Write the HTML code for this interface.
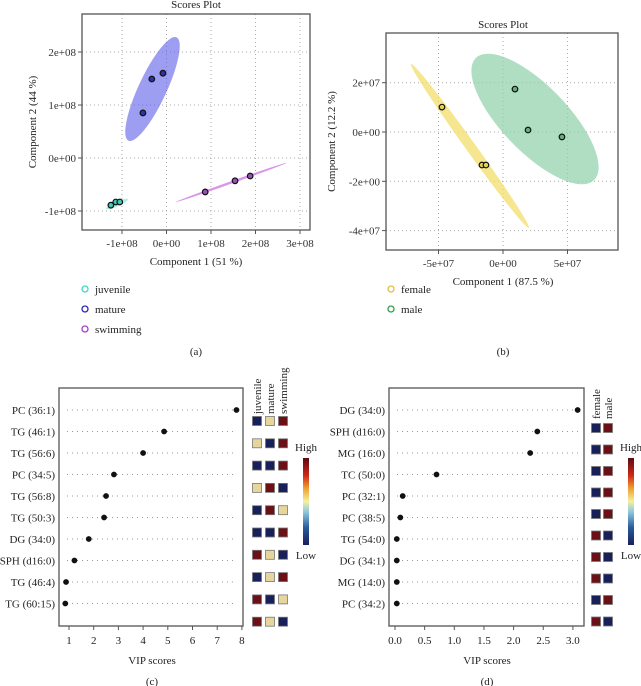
<!DOCTYPE html>
<html><head><meta charset="utf-8"><style>
body{margin:0;background:#fff}
svg{display:block;font-family:"Liberation Serif",serif;}
</style></head><body>
<svg id="fig" width="641" height="686" viewBox="0 0 641 686" xmlns="http://www.w3.org/2000/svg"></svg>
<script>
// ---- Panel A data (units 1e8) ----
const aGroups=["juvenile","mature","swimming"];
const aX=[[-1.25,-1.14,-1.05],[-0.53,-0.33,-0.08],[0.87,1.54,1.88]];
const aY=[[-0.89,-0.83,-0.83],[0.85,1.49,1.60],[-0.64,-0.43,-0.34]];
const aXTicks=[-1,0,1,2,3];
const aXTickLabels=["-1e+08","0e+00","1e+08","2e+08","3e+08"];
const aYTicks=[-1,0,1,2];
const aYTickLabels=["-1e+08","0e+00","1e+08","2e+08"];
// ---- Panel B data (units 1e7) ----
const bGroups=["female","male"];
const bX=[[-4.73,-1.63,-1.32],[0.93,1.94,4.57]];
const bY=[[1.01,-1.34,-1.34],[1.74,0.08,-0.20]];
const bXTicks=[-5,0,5];
const bXTickLabels=["-5e+07","0e+00","5e+07"];
const bYTicks=[-4,-2,0,2];
const bYTickLabels=["-4e+07","-2e+00","0e+00","2e+07"];
// ---- Panel C data ----
const cLabels=["PC (36:1)","TG (46:1)","TG (56:6)","PC (34:5)","TG (56:8)","TG (50:3)","DG (34:0)","SPH (d16:0)","TG (46:4)","TG (60:15)"];
const cValues=[7.78,4.85,4.0,2.82,2.5,2.42,1.8,1.22,0.88,0.85];
const cXTicks=[1,2,3,4,5,6,7,8];
const cGroups=["juvenile","mature","swimming"];
const cHeat=[["B","T","R"],["T","B","R"],["B","B","R"],["T","R","B"],["B","R","T"],["B","B","R"],["R","T","B"],["B","T","R"],["R","B","T"],["R","T","B"]];
// ---- Panel D data ----
const dLabels=["DG (34:0)","SPH (d16:0)","MG (16:0)","TC (50:0)","PC (32:1)","PC (38:5)","TG (54:0)","DG (34:1)","MG (14:0)","PC (34:2)"];
const dValues=[3.08,2.4,2.28,0.7,0.13,0.09,0.03,0.03,0.03,0.03];
const dXTicks=[0,0.5,1,1.5,2,2.5,3];
const dXTickLabels=["0.0","0.5","1.0","1.5","2.0","2.5","3.0"];
const dGroups=["female","male"];
const dHeat=[["B","R"],["B","R"],["B","R"],["B","R"],["B","R"],["R","B"],["R","B"],["R","B"],["B","R"],["R","B"]];

const NS="http://www.w3.org/2000/svg";
const svg=document.getElementById('fig');
function mk(tag,attrs,parent,text){const e=document.createElementNS(NS,tag);for(const k in attrs)e.setAttribute(k,attrs[k]);if(text!==undefined)e.textContent=text;(parent||svg).appendChild(e);return e;}
const heatCol={B:"#18205a",R:"#6a1016",T:"#e6d69c"};

// ---------- Scores plots ----------
function scores(opt){
  const g=mk('g',{});
  
  
  const sx=v=>opt.x0+v*opt.kx, sy=v=>opt.y0-v*opt.ky;
  opt.xTicks.forEach((t,i)=>{
    const l=mk('line',{x1:sx(t),x2:sx(t),y1:opt.top,y2:opt.bottom,stroke:"#aaa","stroke-dasharray":"1,3"},g);
    
    mk('line',{x1:sx(t),x2:sx(t),y1:opt.bottom,y2:opt.bottom+4,stroke:"#555"},g);
    const tx=mk('text',{x:sx(t),y:opt.bottom+17,"text-anchor":"middle","font-size":"11",fill:"#333"},g,opt.xTickLabels[i]);
    
  });
  opt.yTicks.forEach((t,i)=>{
    const l=mk('line',{x1:opt.left,x2:opt.right,y1:sy(t),y2:sy(t),stroke:"#aaa","stroke-dasharray":"1,3"},g);
    
    mk('line',{x1:opt.left-4,x2:opt.left,y1:sy(t),y2:sy(t),stroke:"#555"},g);
    const tx=mk('text',{x:opt.left-6,y:sy(t)+4,"text-anchor":"end","font-size":"11",fill:"#333"},g,opt.yTickLabels[i]);
    
  });
  // ellipses from group data
  opt.X.forEach((xs,gi)=>{
    const px=xs.map(sx), py=opt.Y[gi].map(sy);
    const e=opt.ell[gi];
    const el=mk('ellipse',{cx:0,cy:0,rx:e.a,ry:e.b,fill:opt.fills[gi],"fill-opacity":e.op,transform:`translate(${e.cx},${e.cy}) rotate(${e.ang})`},g);
    
  });
  opt.X.forEach((xs,gi)=>{
    xs.forEach((v,i)=>{
      const c=mk('circle',{cx:sx(v),cy:sy(opt.Y[gi][i]),r:2.8,fill:opt.pts[gi],stroke:"#111","stroke-width":1.2},g);
      
    });
  });
  const fr=mk('rect',{x:opt.left,y:opt.top,width:opt.right-opt.left,height:opt.bottom-opt.top,fill:"none",stroke:"#555","stroke-width":1.3},g);
  
  const t=mk('text',{x:opt.tx,y:opt.titleY,"text-anchor":"middle","font-size":"11",fill:"#222"},g,"Scores Plot");
  
  const xt=mk('text',{x:opt.xtX,y:opt.bottom+35,"text-anchor":"middle","font-size":"11",fill:"#222"},g,opt.xTitle);
  
  const yt=mk('text',{x:0,y:0,"text-anchor":"middle","font-size":"11",fill:"#222",transform:`translate(${opt.ytX},${(opt.top+opt.bottom)/2}) rotate(-90)`},g,opt.yTitle);
  
  opt.groups.forEach((gname,i)=>{
    const lg=mk('g',{},g);
    
    mk('circle',{cx:opt.legX,cy:289+i*20,r:3,fill:"none",stroke:opt.legCol[i],"stroke-width":1.3},lg);
    mk('text',{x:opt.legX+10,y:293+i*20,"font-size":"11",fill:"#222"},lg,gname);
  });
  const pl=mk('text',{x:opt.xtX,y:355,"text-anchor":"middle","font-size":"11",fill:"#222"},g,opt.panel);
  
}
scores({name:'scores-plot-a',left:82,right:310,top:14,bottom:230,x0:166.5,kx:44.5,y0:158,ky:53,
  xTicks:aXTicks,xTickLabels:aXTickLabels,yTicks:aYTicks,yTickLabels:aYTickLabels,
  X:aX,Y:aY,groups:aGroups,fills:["#7fe8d8","#5b5be8","#d68ae8"],pts:["#40c8b8","#3030a8","#9a50b8"],
  ell:[{cx:117,cy:204,a:12,b:2.5,ang:-24,op:0.6},{cx:152.5,cy:89,a:57,b:14,ang:-65,op:0.6},{cx:231,cy:182.5,a:59,b:1.2,ang:-19.5,op:0.9}],
  tx:196,titleY:8,xtX:196,ytX:36,xTitle:"Component 1 (51 %)",yTitle:"Component 2 (44 %)",
  legX:85,legCol:["#40d8c8","#2828b8","#a040c8"],panel:"(a)"});
scores({name:'scores-plot-b',left:386,right:618,top:33,bottom:250,x0:503,kx:12.9,y0:132,ky:24.65,
  xTicks:bXTicks,xTickLabels:bXTickLabels,yTicks:bYTicks,yTickLabels:bYTickLabels,
  X:bX,Y:bY,groups:bGroups,fills:["#f2dc60","#8fd0a8"],pts:["#e8d050","#60b080"],
  ell:[{cx:470,cy:146,a:101,b:5,ang:54.3,op:0.7},{cx:535,cy:119,a:85,b:33,ang:46,op:0.7}],
  tx:503,titleY:28,xtX:503,ytX:335,xTitle:"Component 1 (87.5 %)",yTitle:"Component 2 (12.2 %)",
  legX:391,legCol:["#e8c040","#30a050"],panel:"(b)"});

// ---------- VIP plots ----------
function vip(opt){
  const g=mk('g',{});
  
  
  const sx=v=>opt.x0+v*opt.kx;
  const rowY=i=>410+i*21.5;
  opt.labels.forEach((lab,i)=>{
    const gl=mk('line',{x1:opt.left+8,x2:opt.right-6,y1:rowY(i),y2:rowY(i),stroke:"#999","stroke-dasharray":"1,4"},g);
    
    const t=mk('text',{x:opt.left-4,y:rowY(i)+4,"text-anchor":"end","font-size":"11",fill:"#222"},g,lab);
    
    const c=mk('circle',{cx:sx(opt.values[i]),cy:rowY(i),r:2.9,fill:"#111"},g);
    
  });
  opt.xTicks.forEach((t,i)=>{
    mk('line',{x1:sx(t),x2:sx(t),y1:626,y2:630,stroke:"#555"},g);
    const tx=mk('text',{x:sx(t),y:644,"text-anchor":"middle","font-size":"11",fill:"#222"},g,opt.xTickLabels?opt.xTickLabels[i]:String(t));
    
  });
  const fr=mk('rect',{x:opt.left,y:388,width:opt.right-opt.left,height:238,fill:"none",stroke:"#555","stroke-width":1.3},g);
  
  const xt=mk('text',{x:opt.xtX,y:664,"text-anchor":"middle","font-size":"11",fill:"#222"},g,"VIP scores");
  
  const pl=mk('text',{x:opt.xtX,y:685,"text-anchor":"middle","font-size":"11",fill:"#222"},g,opt.panel);
  
  // heatmap
  opt.groups.forEach((gn,j)=>{
    const h=mk('text',{x:0,y:0,"font-size":"11",fill:"#222",transform:`translate(${opt.hx[j]+4},${opt.hTop}) rotate(-90)`},g,gn);
    
  });
  opt.heat.forEach((row,i)=>{
    row.forEach((v,j)=>{
      const r=mk('rect',{x:opt.hx[j]-4.5,y:opt.hy0+i*opt.hstep-4.5,width:9,height:9,fill:heatCol[v],stroke:"#777","stroke-width":0.8},g);
      
    });
  });
  const gid='cb'+opt.name;
  const defs=mk('defs',{},g);
  const lg=mk('linearGradient',{id:gid,x1:0,y1:1,x2:0,y2:0},defs);
  [["0","#1a1f5e"],["0.2","#2a5a9a"],["0.38","#8cc8e0"],["0.5","#f4f0a0"],["0.65","#f0a030"],["0.8","#d02818"],["1","#5a0a14"]].forEach(s=>mk('stop',{offset:s[0],"stop-color":s[1]},lg));
  const cb=mk('rect',{x:opt.cbx,y:458,width:6,height:87,fill:`url(#${gid})`},g);
  
  const hi=mk('text',{x:opt.cbx+3,y:451,"text-anchor":"middle","font-size":"11",fill:"#222"},g,"High");
  
  const lo=mk('text',{x:opt.cbx+3,y:559,"text-anchor":"middle","font-size":"11",fill:"#222"},g,"Low");
  
}
vip({name:'vip-plot-c',left:59,right:243,x0:69-24.7,kx:24.7,labels:cLabels,values:cValues,xTicks:cXTicks,
  xtX:152,panel:"(c)",groups:cGroups,heat:cHeat,hx:[257,270,283],hTop:414,hy0:421,hstep:22.3,cbx:303});
vip({name:'vip-plot-d',left:389,right:584,x0:395,kx:59.3,labels:dLabels,values:dValues,xTicks:dXTicks,xTickLabels:dXTickLabels,
  xtX:487,panel:"(d)",groups:dGroups,heat:dHeat,hx:[596,608],hTop:419,hy0:428,hstep:21.5,cbx:628});
</script>
</body></html>
